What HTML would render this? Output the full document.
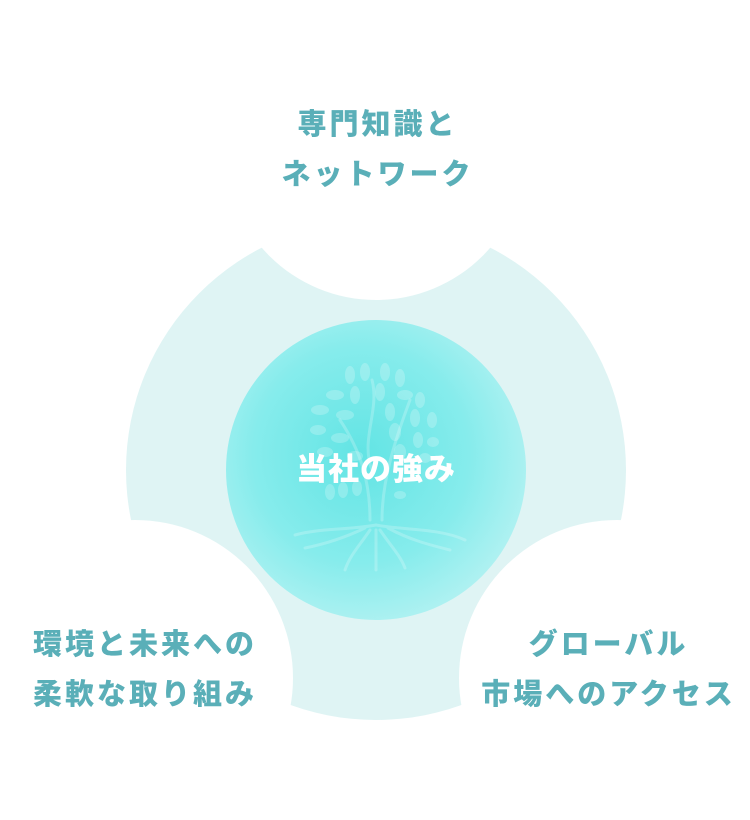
<!DOCTYPE html>
<html><head><meta charset="utf-8"><style>
html,body{margin:0;padding:0;background:#fff}
body{width:750px;height:820px;position:relative;overflow:hidden;font-family:"Liberation Sans","Noto Sans CJK JP",sans-serif}
.t{position:absolute;color:#5aafb8;font-weight:900;font-size:29px;letter-spacing:3px;line-height:50px;text-align:center;white-space:nowrap}
.c{position:absolute;left:226px;top:320px;width:300px;height:300px;color:#fff;font-weight:900;font-size:31px;line-height:300px;text-align:center;letter-spacing:1px}
</style></head><body>
<svg width="750" height="820" style="position:absolute;left:0;top:0">
<defs>
<mask id="m"><rect width="750" height="820" fill="#fff"/>
<circle cx="376" cy="149" r="151" fill="#000"/>
<circle cx="135" cy="678" r="158" fill="#000"/>
<circle cx="617" cy="678" r="158" fill="#000"/>
</mask>
<radialGradient id="g" cx="0.45" cy="0.45" r="0.6">
<stop offset="0" stop-color="#62e4e4"/><stop offset="0.6" stop-color="#86ecec"/><stop offset="1" stop-color="#b4f2f2"/>
</radialGradient>
</defs>
<circle cx="376" cy="470" r="250" fill="#dff4f4" mask="url(#m)"/>
<circle cx="376" cy="470" r="150" fill="url(#g)"/>
<g fill="#ffffff" opacity="0.22" stroke="none">
<ellipse cx="350" cy="375" rx="5" ry="9"/><ellipse cx="365" cy="372" rx="5" ry="9"/><ellipse cx="385" cy="372" rx="5" ry="9"/><ellipse cx="400" cy="378" rx="5" ry="9"/>
<ellipse cx="335" cy="395" rx="9" ry="5"/><ellipse cx="355" cy="395" rx="5" ry="9"/><ellipse cx="380" cy="392" rx="5" ry="9"/><ellipse cx="405" cy="395" rx="8" ry="5"/><ellipse cx="420" cy="400" rx="5" ry="8"/>
<ellipse cx="320" cy="410" rx="9" ry="5"/><ellipse cx="345" cy="415" rx="9" ry="5"/><ellipse cx="390" cy="412" rx="5" ry="9"/><ellipse cx="415" cy="418" rx="5" ry="9"/><ellipse cx="432" cy="420" rx="5" ry="8"/>
<ellipse cx="318" cy="430" rx="8" ry="5"/><ellipse cx="340" cy="438" rx="9" ry="5"/><ellipse cx="395" cy="432" rx="6" ry="9"/><ellipse cx="418" cy="440" rx="5" ry="8"/><ellipse cx="433" cy="442" rx="6" ry="5"/>
<ellipse cx="325" cy="452" rx="8" ry="5"/><ellipse cx="355" cy="456" rx="8" ry="5"/><ellipse cx="400" cy="452" rx="6" ry="8"/><ellipse cx="425" cy="458" rx="6" ry="5"/>
<ellipse cx="330" cy="492" rx="5" ry="8"/><ellipse cx="343" cy="490" rx="5" ry="8"/><ellipse cx="357" cy="488" rx="5" ry="8"/><ellipse cx="400" cy="495" rx="6" ry="4"/>
</g>
<g fill="none" stroke="#ffffff" stroke-opacity="0.22" stroke-width="3" stroke-linecap="round">
<path d="M370 520 C370 480 360 450 340 420 M382 520 C382 480 395 440 410 400 M372 470 C360 440 380 410 372 380"/>
<path d="M376 525 C350 530 320 528 295 535 M376 525 C400 530 440 528 465 540 M370 530 C360 545 350 555 345 570 M380 530 C390 545 400 555 405 568 M376 530 L376 570 M365 528 C340 540 320 545 305 548 M388 528 C410 540 430 545 450 550"/>
</g>
</svg>
<div class="t" style="left:226px;width:303px;top:100px">専門知識と<br>ネットワーク</div>
<div class="t" style="left:0;width:290px;top:620px">環境と未来への<br>柔軟な取り組み</div>
<div class="t" style="left:462px;width:293px;top:620px">グローバル<br>市場へのアクセス</div>
<div class="c">当社の強み</div>
</body></html>
